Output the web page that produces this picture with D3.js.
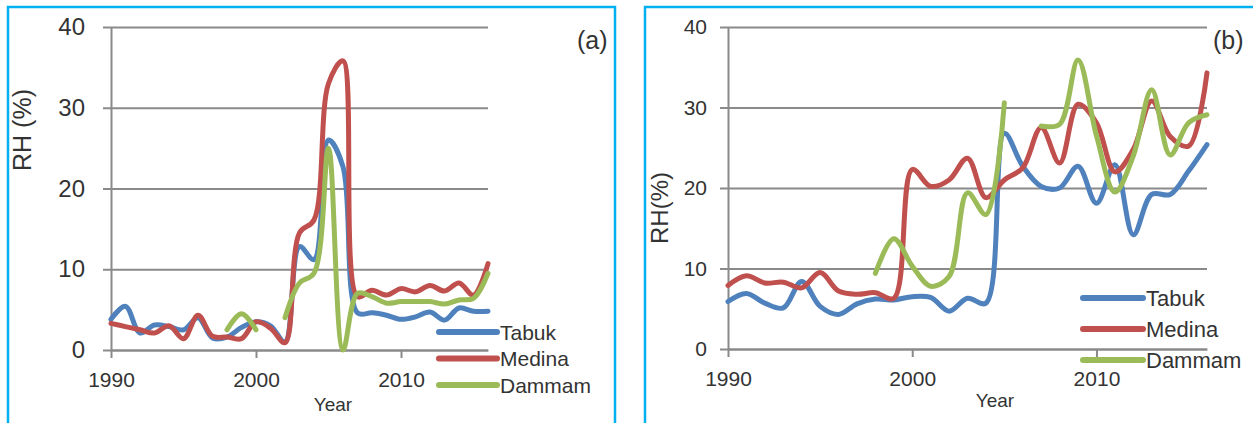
<!DOCTYPE html>
<html>
<head>
<meta charset="utf-8">
<script src="https://cdn.jsdelivr.net/npm/d3@7"></script>
<style>
  html, body { margin: 0; padding: 0; background: #fff; }
  svg text { font-family: "Liberation Sans", Arial, sans-serif; fill: #333; }
</style>
</head>
<body>
<svg id="chart" width="1253" height="423"></svg>
<script>
// years on the x axis (one value per year)
const years = [1990, 1991, 1992, 1993, 1994, 1995, 1996, 1997, 1998, 1999,
               2000, 2001, 2002, 2003, 2004, 2005, 2006, 2007, 2008, 2009,
               2010, 2011, 2012, 2013, 2014, 2015, 2016];
const xTicks = [1990, 2000, 2010];
const yTicks = [0, 10, 20, 30, 40];
const stations = ["Tabuk", "Medina", "Dammam"];

// panel (a)
const tabukA  = [3.8, 5.4, 2.1, 3.1, 2.9, 2.5, 4.0, 1.5, 1.6, 2.8,
                 3.5, 3.0, 1.0, 12.8, 11.2, 26.0, 22.7, 4.6, 4.6, 4.3,
                 3.8, 4.1, 4.7, 3.7, 5.2, 4.8, 4.8];
const medinaA = [3.3, 2.9, 2.5, 2.1, 3.0, 1.4, 4.3, 1.7, 1.6, 1.4,
                 3.5, 2.7, 0.9, 14.5, 16.1, 33.0, 35.8, 6.6, 7.4, 6.8,
                 7.6, 7.2, 8.0, 7.3, 8.3, 6.8, 10.7];
const dammamA = [null, null, null, null, null, null, null, null, 2.5, 4.5,
                 2.5, null, 4.0, 8.3, 9.5, 25.0, 0.0, 7.0, 6.6, 5.8,
                 6.0, 6.0, 6.0, 5.7, 6.2, 6.4, 9.5];

// panel (b)
const tabukB  = [5.9, 6.9, 5.7, 5.1, 8.4, 5.3, 4.3, 5.6, 6.2, 6.1,
                 6.5, 6.4, 4.7, 6.3, 5.7, 26.8, 22.7, 20.2, 20.0, 22.7,
                 18.1, 22.9, 14.2, 19.2, 19.2, 22.1, 25.4];
const medinaB = [7.9, 9.1, 8.2, 8.3, 7.6, 9.5, 7.2, 6.8, 7.0, 6.3,
                 22.3, 20.2, 21.0, 23.7, 18.8, 21.0, 22.5, 27.5, 23.1, 30.4,
                 28.1, 22.0, 24.8, 30.8, 26.4, 25.2, 34.3];
const dammamB = [null, null, null, null, null, null, null, null, 9.4, 13.7,
                 10.3, 7.8, 9.0, 19.4, 16.7, 30.6, null, 27.7, 27.9, 35.9,
                 26.5, 19.5, 24.0, 32.2, 24.1, 28.1, 29.1];

const colors = {
    "Tabuk": "#4f81bd",
    "Medina": "#c0504d",
    "Dammam": "#9bbb59"
};
const gridColor = "#8a8a8a";

const svg = d3.select("#chart");

// frame around each panel
svg.append("rect")
    .attr("x", 8).attr("y", 7).attr("width", 607).attr("height", 430)
    .attr("fill", "none").attr("stroke", "#00b0f0").attr("stroke-width", 2.5);
svg.append("rect")
    .attr("x", 645).attr("y", 7).attr("width", 620).attr("height", 430)
    .attr("fill", "none").attr("stroke", "#00b0f0").attr("stroke-width", 2.5);

function drawPanel(cfg) {
    const g = svg.append("g");
    const x = d3.scaleLinear().domain([1990, 2016]).range([cfg.left, cfg.right]);
    const y = d3.scaleLinear().domain([0, 40]).range([cfg.bottom, cfg.top]);

    // gridlines
    g.append("g")
        .attr("transform", `translate(${cfg.left},0)`)
        .call(d3.axisLeft(y).tickValues(yTicks).tickSize(-(cfg.right - cfg.left)).tickFormat(""))
        .call(s => s.select(".domain").remove())
        .call(s => s.selectAll("line").attr("stroke", gridColor).attr("stroke-width", 2));

    // y axis
    const yAxis = g.append("g")
        .attr("transform", `translate(${cfg.left},0)`)
        .call(d3.axisLeft(y).tickValues(yTicks).tickSize(8).tickPadding(cfg.yPad).tickSizeOuter(0));
    yAxis.select(".domain").attr("stroke", gridColor).attr("stroke-width", 2);
    yAxis.selectAll("line").attr("stroke", gridColor).attr("stroke-width", 2);
    yAxis.selectAll("text").style("font-size", cfg.yFont + "px").attr("fill", "#333");

    // x axis
    const xAxis = g.append("g")
        .attr("transform", `translate(0,${cfg.bottom})`)
        .call(d3.axisBottom(x).tickValues(xTicks).tickFormat(d3.format("d")).tickSize(8).tickPadding(14).tickSizeOuter(0));
    xAxis.select(".domain").attr("stroke", gridColor).attr("stroke-width", 2);
    xAxis.selectAll("line").attr("stroke", gridColor).attr("stroke-width", 2);
    xAxis.selectAll("text").style("font-size", "21px").attr("fill", "#333");

    // clip so curves do not run under the axis
    g.append("defs").append("clipPath")
        .attr("id", cfg.id + "-clip")
        .append("rect")
        .attr("x", cfg.left - 4).attr("y", cfg.top - 10)
        .attr("width", cfg.right - cfg.left + 10).attr("height", cfg.bottom - cfg.top + 13);

    const line = d3.line()
        .defined(d => d.v !== null)
        .x(d => x(d.year))
        .y(d => y(d.v))
        .curve(d3.curveCatmullRom.alpha(0.5));

    stations.forEach((name, i) => {
        const pts = years.map((yr, k) => ({ year: yr, v: cfg.series[i][k] }));
        g.append("path")
            .datum(pts)
            .attr("fill", "none")
            .attr("stroke", colors[name])
            .attr("stroke-width", 5)
            .attr("stroke-linecap", "round")
            .attr("stroke-linejoin", "round")
            .attr("clip-path", `url(#${cfg.id}-clip)`)
            .attr("d", line);
    });

    // legend
    stations.forEach((name, i) => {
        const ly = cfg.legY + i * cfg.legStep;
        g.append("line")
            .attr("x1", cfg.legX).attr("x2", cfg.legX + cfg.legLen)
            .attr("y1", ly).attr("y2", ly)
            .attr("stroke", colors[name]).attr("stroke-width", 6)
            .attr("stroke-linecap", "round");
        g.append("text")
            .attr("x", cfg.legX + cfg.legLen + 3)
            .attr("y", ly)
            .attr("dy", "0.36em")
            .style("font-size", cfg.legFont + "px")
            .text(name);
    });

    // axis titles
    g.append("text")
        .attr("x", cfg.yearX).attr("y", cfg.yearY)
        .attr("text-anchor", "middle")
        .style("font-size", "19px")
        .text("Year");
    g.append("text")
        .attr("transform", `translate(${cfg.rhX},${cfg.rhY}) rotate(-90)`)
        .attr("text-anchor", "middle")
        .style("font-size", cfg.rhFont + "px")
        .text(cfg.rhText);

    // panel tag
    g.append("text")
        .attr("x", cfg.tagX).attr("y", 40)
        .attr("dy", "0.36em")
        .style("font-size", "25px")
        .text(cfg.tag);
}

drawPanel({
    id: "a", series: [tabukA, medinaA, dammamA],
    left: 111, right: 488, top: 27, bottom: 350,
    yPad: 18, yFont: 24,
    legX: 439, legLen: 58, legY: 332, legStep: 26.5, legFont: 21,
    yearX: 333, yearY: 411,
    rhX: 31, rhY: 130, rhFont: 25, rhText: "RH (%)",
    tag: "(a)", tagX: 577
});

drawPanel({
    id: "b", series: [tabukB, medinaB, dammamB],
    left: 728, right: 1207, top: 27, bottom: 349,
    yPad: 13, yFont: 21,
    legX: 1083, legLen: 60, legY: 298, legStep: 31, legFont: 22,
    yearX: 995, yearY: 407,
    rhX: 668, rhY: 208, rhFont: 24, rhText: "RH(%)",
    tag: "(b)", tagX: 1213
});
</script>
</body>
</html>
